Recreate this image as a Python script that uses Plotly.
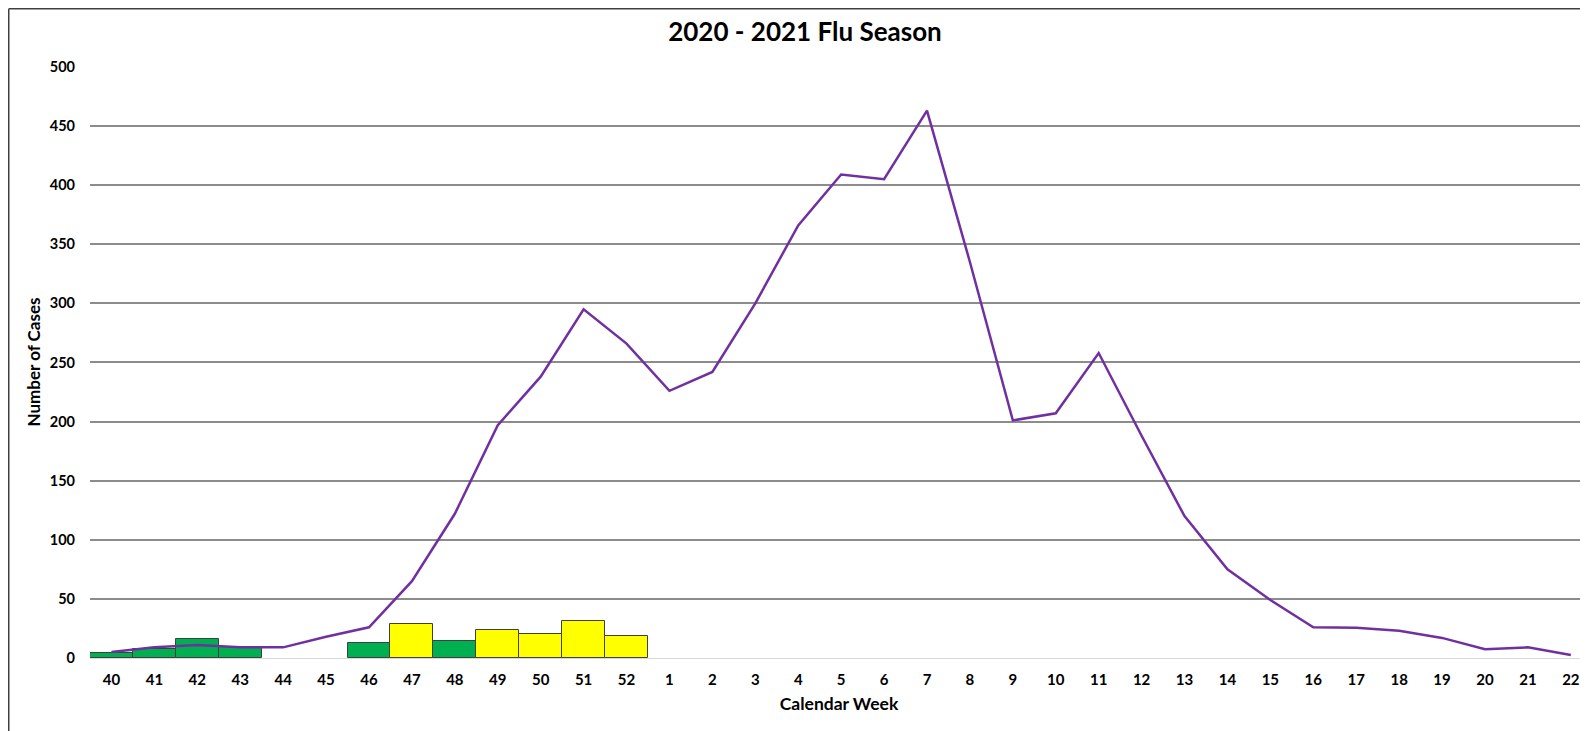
import plotly.graph_objects as go

weeks = ["40", "41", "42", "43", "44", "45", "46", "47", "48", "49", "50", "51", "52",
         "1", "2", "3", "4", "5", "6", "7", "8", "9", "10", "11", "12", "13", "14",
         "15", "16", "17", "18", "19", "20", "21", "22"]
line_values = [5, 9, 11, 9, 9, 18, 26, 65, 122, 197, 238, 295, 266,
               226, 242, 300, 366, 409, 405, 463, 335, 201, 207, 258, 188, 120, 75,
               49, 26, 25.5, 23, 17, 7.5, 9, 2.5]
bar_values = [4, 8, 16, 9, None, None, 13, 29, 14, 24, 20, 31, 19]
bar_groups = ["green", "green", "green", "green", None, None, "green", "yellow", "green",
              "yellow", "yellow", "yellow", "yellow"]
y_ticks = [0, 50, 100, 150, 200, 250, 300, 350, 400, 450, 500]

color_map = {"green": "#00B050", "yellow": "#FFFF00", None: "#FFFFFF"}
xs = list(range(len(weeks)))
bx = xs[:len(bar_values)]

W, H = 1580, 723
L, T, B = 82, 58, 73
PW, PH = W - L, H - T - B

fig = go.Figure()
fig.add_trace(go.Bar(
    x=bx, y=bar_values,
    marker=dict(color=[color_map[g] for g in bar_groups],
                line=dict(color="#404040", width=1)),
    width=1, showlegend=False, hoverinfo="skip"))
fig.add_trace(go.Scatter(
    x=xs, y=line_values, mode="lines",
    line=dict(color="#7030A0", width=2.5), showlegend=False))

font_family = "Lato, 'Open Sans', sans-serif"
fig.update_layout(
    width=W, height=H,
    margin=dict(l=L, r=0, t=T, b=B),
    paper_bgcolor="white", plot_bgcolor="white",
    bargap=0,
    font=dict(family=font_family, color="#000000"),
    title=dict(text="<b>2020 - 2021 Flu Season</b>", x=797 / W, xref="container", xanchor="center",
               y=1 - 23.4 / H, yref="container", yanchor="middle",
               font=dict(size=26, family=font_family, color="#000000")),
    xaxis=dict(range=[-0.5, len(weeks) - 0.6], tickmode="array", tickvals=xs, ticktext=weeks,
               showgrid=False, zeroline=False, showline=True, linecolor="#D9D9D9", linewidth=1,
               ticks="", ticklabelstandoff=8,
               tickfont=dict(size=15, family=font_family, color="#000000", weight="bold"),
               title=dict(text="<b>Calendar Week</b>", standoff=10,
                          font=dict(size=17.5, family=font_family, color="#000000"))),
    yaxis=dict(range=[0, 500.8], tickmode="array", tickvals=y_ticks,
               showgrid=True, gridcolor="#8C8C8C", gridwidth=1.5,
               zeroline=False, showline=False, ticks="", ticklabelstandoff=14,
               tickfont=dict(size=14.5, family=font_family, color="#000000", weight="bold"),
               title=dict(text="<b>Number of Cases</b>", standoff=4,
                          font=dict(size=17, family=font_family, color="#000000"))),
    shapes=[
        dict(type="line", xref="paper", yref="paper",
             x0=(0.75 - L) / PW, x1=(0.75 - L) / PW, y0=-0.2, y1=1 + (T - 0.75) / PH,
             line=dict(color="#404040", width=1.5)),
        dict(type="line", xref="paper", yref="paper",
             x0=(0.75 - L) / PW, x1=1.05, y0=1 + (T - 0.75) / PH, y1=1 + (T - 0.75) / PH,
             line=dict(color="#404040", width=1.5)),
    ],
)

fig.write_html("out.html")
